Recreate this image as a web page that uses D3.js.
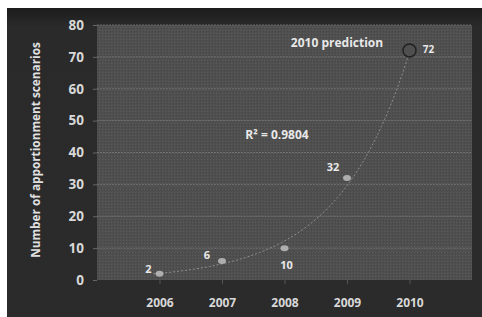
<!DOCTYPE html>
<html><head><meta charset="utf-8">
<script src="https://cdn.jsdelivr.net/npm/d3@7"></script>
<style>html,body{margin:0;padding:0;background:#fff;}svg{display:block;}</style>
</head><body>
<script>
const years = ["2006","2007","2008","2009","2010"];
const actualYears = ["2006","2007","2008","2009"];
const actualValues = [2, 6, 10, 32];
const predictionYear = "2010";
const predictionValue = 72;
const yTicks = [0,10,20,30,40,50,60,70,80];
const rSquaredLabel = "R² = 0.9804";
const predictionLabel = "2010 prediction";
const yTitle = "Number of apportionment scenarios";

const W = 482, H = 317;
const svg = d3.select("body").append("svg").attr("width", W).attr("height", H);

const defs = svg.append("defs");
const g1 = defs.append("linearGradient").attr("id","bg").attr("x1",0).attr("y1",0).attr("x2",0).attr("y2",1);
g1.append("stop").attr("offset","0").attr("stop-color","#1c1c1c");
g1.append("stop").attr("offset","0.06").attr("stop-color","#2a2a2a");
g1.append("stop").attr("offset","1").attr("stop-color","#2b2b2b");
svg.append("rect").attr("x",7).attr("y",8).attr("width",W-7).attr("height",H-8).attr("fill","url(#bg)");

const pat = defs.append("pattern").attr("id","tex").attr("width",3).attr("height",3).attr("patternUnits","userSpaceOnUse");
pat.append("rect").attr("width",3).attr("height",3).attr("fill","#4f4f4f");
pat.append("rect").attr("width",1).attr("height",1).attr("fill","#5a5a5a");
pat.append("rect").attr("x",2).attr("y",1).attr("width",1).attr("height",1).attr("fill","#464646");

const L = 97, R = 472, T = 25, B = 280;
const x = d3.scalePoint().domain(years).range([L, R]).padding(1);
const y = d3.scaleLinear().domain([0, 80]).range([B, T]);

svg.append("rect").attr("x",L).attr("y",T).attr("width",R-L).attr("height",B-T).attr("fill","url(#tex)");

svg.append("g").selectAll("line").data(yTicks.filter(d=>d>0)).join("line")
  .attr("x1",L).attr("x2",R).attr("y1",d=>y(d)).attr("y2",d=>y(d))
  .attr("stroke","#7a7a7a").attr("stroke-width",1).attr("stroke-dasharray","2,1").attr("opacity",0.8);

const yAxis = d3.axisLeft(y).tickValues(yTicks).tickSize(4).tickPadding(9);
const ya = svg.append("g").attr("transform",`translate(${L},0)`).call(yAxis);
ya.select(".domain").remove();
ya.selectAll(".tick line").attr("stroke","#666");
ya.selectAll("text").attr("fill","#d8d8d8").attr("font-family","Open Sans, Liberation Sans, sans-serif")
  .attr("font-weight","bold").attr("font-size","13.5px");

const xAxis = d3.axisBottom(x).tickSize(4).tickPadding(14);
const xa = svg.append("g").attr("transform",`translate(0,${B})`).call(xAxis);
xa.select(".domain").remove();
xa.selectAll(".tick line").attr("stroke","#555");
xa.selectAll("text").attr("fill","#d8d8d8").attr("font-family","Open Sans, Liberation Sans, sans-serif")
  .attr("font-weight","bold").attr("font-size","12px");

svg.append("text").attr("transform",`translate(40,150) rotate(-90)`)
  .attr("text-anchor","middle").attr("fill","#e0e0e0")
  .attr("font-family","Open Sans, Liberation Sans, sans-serif").attr("font-weight","bold").attr("font-size","11.8px")
  .text(yTitle);

// exponential trend fit from actual values
const xs = actualValues.map((d,i)=>i+1);
const ls = actualValues.map(v=>Math.log(v));
const mx = d3.mean(xs), ml = d3.mean(ls);
const b = d3.sum(xs.map((xi,i)=>(xi-mx)*(ls[i]-ml))) / d3.sum(xs.map(xi=>(xi-mx)**2));
const a = ml - b*mx;
const idx = d3.scaleLinear().domain([1, years.length]).range([x(years[0]), x(years[years.length-1])]);
const curvePts = d3.range(0.9, years.length + 0.001, 0.05).map(t => [idx(t), y(Math.exp(a + b*t))]);
svg.append("path").attr("d", d3.line()(curvePts.filter(p=>p[1]>=T)))
  .attr("fill","none").attr("stroke","#8f8f8f").attr("stroke-width",1).attr("stroke-dasharray","2,2");

svg.append("g").selectAll("ellipse").data(actualValues).join("ellipse")
  .attr("cx",(d,i)=>x(actualYears[i])).attr("cy",d=>y(d))
  .attr("rx",4).attr("ry",3).attr("fill","#bdbdbd").attr("opacity",0.85);

svg.append("circle").attr("cx",x(predictionYear)).attr("cy",y(predictionValue)).attr("r",6.5)
  .attr("fill","#4f4f4f").attr("stroke","#222").attr("stroke-width",1.5);

const lab = (t, px, py, anchor, size) => svg.append("text").attr("x",px).attr("y",py)
  .attr("text-anchor",anchor||"middle").attr("fill","#e8e8e8")
  .attr("font-family","Open Sans, Liberation Sans, sans-serif").attr("font-weight","bold")
  .attr("font-size",(size||11)+"px").text(t);
lab(actualValues[0], x(actualYears[0]) - 11, y(actualValues[0]) - 1);
lab(actualValues[1], x(actualYears[1]) - 15, y(actualValues[1]) - 2);
lab(actualValues[2], x(actualYears[2]) + 2, y(actualValues[2]) + 21, "middle", 11);
lab(actualValues[3], x(actualYears[3]) - 14, y(actualValues[3]) - 7);
lab(predictionValue, x(predictionYear) + 19, y(predictionValue) + 2, "middle", 10);
lab(predictionLabel, 337, 47, "middle", 12);
lab(rSquaredLabel, 277, 139, "middle", 12);
</script>
</body></html>
